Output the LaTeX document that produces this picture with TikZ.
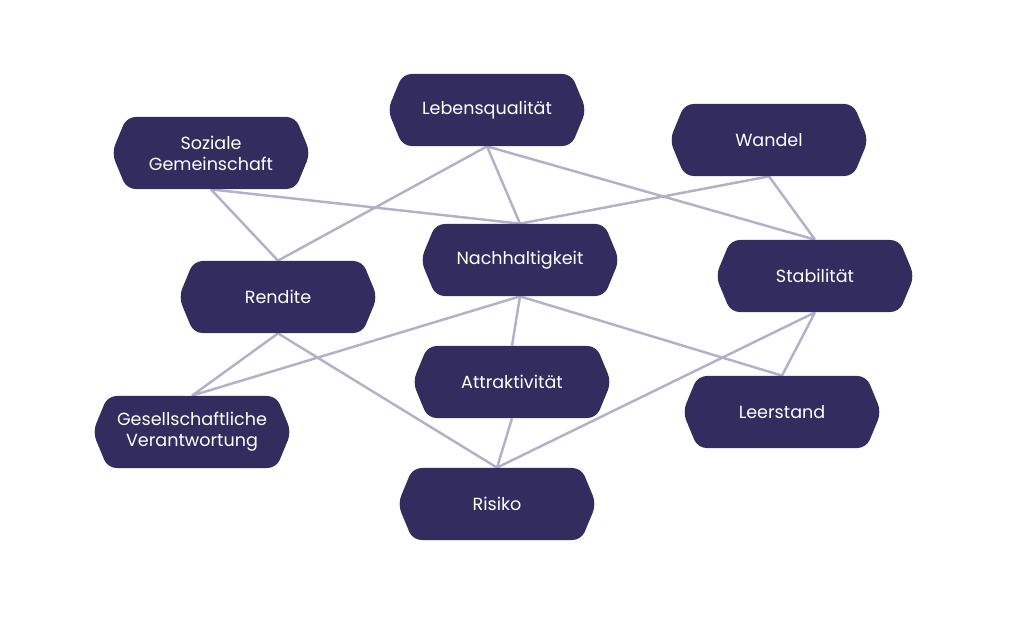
\documentclass[tikz,border=0pt]{standalone}
\usepackage{fontspec}
\setmainfont{Poppins}
\usetikzlibrary{shapes.symbols,backgrounds}
\definecolor{hexfill}{HTML}{332C5E}
\definecolor{linkcol}{HTML}{B4B0C8}
\tikzset{
  hexbox/.style = {shape=signal, signal to=east and west,
                   signal pointer angle=135, rounded corners=5pt,
                   fill=hexfill, text=white, align=center,
                   minimum width=113pt, minimum height=41pt,
                   inner sep=0pt, font=\fontsize{10}{12}\selectfont},
  link/.style   = {draw=linkcol, line width=1.4pt}
}
\begin{document}
\begin{tikzpicture}[x=0.02cm, y=-0.02cm]
  \useasboundingbox (0,0) rectangle (1024,623);
  % nodes
  \node [hexbox] (leben)  at (487,110) {Lebensqualität};
  \node [hexbox] (sozial) at (211,153) {Soziale\\Gemeinschaft};
  \node [hexbox] (wandel) at (769,140) {Wandel};
  \node [hexbox] (nachh)  at (520,260) {Nachhaltigkeit};
  \node [hexbox] (rendite) at (278,297) {Rendite};
  \node [hexbox] (stab)   at (815,276) {Stabilität};
  \node [hexbox] (attr)   at (512,382) {Attraktivität};
  \node [hexbox] (leer)   at (782,412) {Leerstand};
  \node [hexbox] (gesell) at (192,432) {Gesellschaftliche\\Verantwortung};
  \node [hexbox] (risiko) at (497,504) {Risiko};
  % connectors behind the boxes
  \begin{pgfonlayer}{background}
  \path [link] (leben.south) -- (rendite.north)
               (leben.south) -- (nachh.north)
               (leben.south) -- (stab.north)
               (sozial.south) -- (rendite.north)
               (sozial.south) -- (nachh.north)
               (wandel.south) -- (nachh.north)
               (wandel.south) -- (stab.north)
               (nachh.south) -- (gesell.north)
               (nachh.south) -- (attr.north)
               (nachh.south) -- (leer.north)
               (rendite.south) -- (gesell.north)
               (rendite.south) -- (risiko.north)
               (stab.south) -- (leer.north)
               (stab.south) -- (risiko.north)
               (attr.south) -- (risiko.north);
  \end{pgfonlayer}
\end{tikzpicture}
\end{document}
